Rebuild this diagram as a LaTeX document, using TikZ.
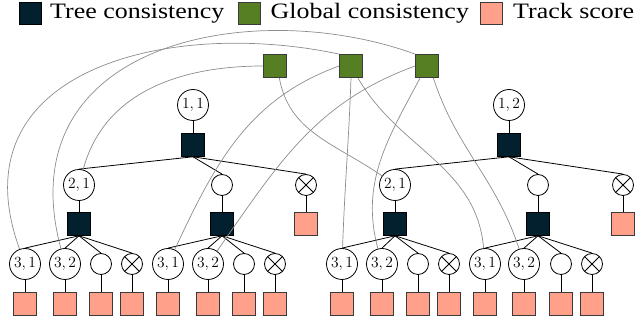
\RequirePackage{fix-cm}
\documentclass[tikz,border=0pt]{standalone}
\usepackage{fontspec}
\newfontfamily\legfont{Liberation Serif}
\definecolor{navy}{HTML}{03202F}
\definecolor{grn}{HTML}{557F22}
\definecolor{salmon}{HTML}{FFA08A}
\definecolor{bord}{HTML}{3A3A3A}
\definecolor{curvegray}{HTML}{8C8C8C}
\newcommand\mkleaf[5]{%
  \node[#3] (#1) at (#2,59) {#4};
  \node[ts] (#1p) at (#2,19) {};
  \draw[tedge] (#5.south) -- (#1.north);
  \draw[tedge] (#1) -- (#1p);}
\newcommand\legstr[1]{\scalebox{1.18}[1]{#1}}
\begin{document}
\begin{tikzpicture}[x=1pt,y=1pt,
  lab/.style={circle,draw,fill=white,line width=0.8pt,minimum size=31pt,inner sep=0pt,font=\fontsize{15.5}{15.5}\selectfont},
  emp/.style={circle,draw,fill=white,line width=0.8pt,minimum size=21pt,inner sep=0pt},
  xc/.style={emp,path picture={\draw[line width=0.8pt]
      (path picture bounding box.north west) -- (path picture bounding box.south east)
      (path picture bounding box.north east) -- (path picture bounding box.south west);}},
  tf/.style={rectangle,draw=black,fill=navy,minimum size=23pt,inner sep=0pt,line width=0.6pt},
  gf/.style={rectangle,draw=bord,fill=grn,minimum size=23pt,inner sep=0pt,line width=0.8pt},
  ts/.style={rectangle,draw=bord,fill=salmon,minimum size=23pt,inner sep=0pt,line width=0.8pt},
  tedge/.style={line width=0.8pt},
  gl/.style={draw=curvegray,line width=0.7pt},
  legtext/.style={anchor=base west,inner sep=0pt,font=\legfont\fontsize{22}{22}\selectfont}]
\useasboundingbox (0,0) rectangle (637,323);
% legend
\node[tf,minimum size=22pt] (k1) at (30,310) {};
\node[legtext] (k1t) at (50,304.5) {\legstr{Tree consistency}};
\node[gf,minimum size=22pt] (k2) at (249,310) {};
\node[legtext] (k2t) at (270.5,304.5) {\legstr{Global consistency}};
\node[ts,minimum size=22pt] (k3) at (491.5,310) {};
\node[legtext] (k3t) at (513,304.5) {\legstr{Track score}};
% global factors
\node[gf] (g1) at (275,257) {};
\node[gf] (g2) at (351,257) {};
\node[gf] (g3) at (427,257) {};
% left tree
\node[lab] (r1) at (193,218) {$1,1$};
\node[tf] (f1) at (193,178) {};
\draw[tedge] (r1) -- (f1);
\node[lab] (a) at (79,138) {$2,1$};
\node[emp] (b) at (222,138) {};
\node[xc] (c) at (306,138) {};
\foreach \n in {a,b,c} {\draw[tedge] (f1.south) -- (\n.north);}
\node[tf] (fa) at (79,99) {};
\node[tf] (fb) at (222,99) {};
\node[ts] (sc) at (306,99) {};
\draw[tedge] (a) -- (fa);
\draw[tedge] (b) -- (fb);
\draw[tedge] (c) -- (sc);
\mkleaf{a1}{25}{lab}{$3,1$}{fa}
\mkleaf{a2}{65}{lab}{$3,2$}{fa}
\mkleaf{a3}{101}{emp}{}{fa}
\mkleaf{a4}{132}{xc}{}{fa}
\mkleaf{b1}{168}{lab}{$3,1$}{fb}
\mkleaf{b2}{208}{lab}{$3,2$}{fb}
\mkleaf{b3}{244}{emp}{}{fb}
\mkleaf{b4}{275}{xc}{}{fb}
% right tree
\node[lab] (r2) at (509,218) {$1,2$};
\node[tf] (f2) at (509,178) {};
\draw[tedge] (r2) -- (f2);
\node[lab] (d) at (395,138) {$2,1$};
\node[emp] (e) at (538,138) {};
\node[xc] (h) at (623,138) {};
\foreach \n in {d,e,h} {\draw[tedge] (f2.south) -- (\n.north);}
\node[tf] (fd) at (395,99) {};
\node[tf] (fe) at (538,99) {};
\node[ts] (sh) at (623,99) {};
\draw[tedge] (d) -- (fd);
\draw[tedge] (e) -- (fe);
\draw[tedge] (h) -- (sh);
\mkleaf{d1}{342}{lab}{$3,1$}{fd}
\mkleaf{d2}{382}{lab}{$3,2$}{fd}
\mkleaf{d3}{418}{emp}{}{fd}
\mkleaf{d4}{449}{xc}{}{fd}
\mkleaf{e1}{485}{lab}{$3,1$}{fe}
\mkleaf{e2}{524}{lab}{$3,2$}{fe}
\mkleaf{e3}{561}{emp}{}{fe}
\mkleaf{e4}{592}{xc}{}{fe}
% global consistency connectors
\draw[gl] (a1) to[out=110,in=168,out looseness=1.3,in looseness=1.2] (g2.north west);
\draw[gl] (a2) to[out=105,in=160,out looseness=1.35,in looseness=1.1] (g3.north west);
\draw[gl] (a) to[out=75,in=180] (g1.west);
\draw[gl] (g1.-70) to[out=-80,in=145] (d);
\draw[gl] (g2.west) to[out=200,in=65] (b1);
\draw[gl] (g3.west) to[out=200,in=55] (b2);
\draw[gl] (g2.south) to[out=-92,in=88] (d1);
\draw[gl] (g2.-60) to[out=-60,in=95] (e1);
\draw[gl] (g3.-120) to[out=-118,in=105] (d2);
\draw[gl] (g3.-62) to[out=-72,in=108] (e2);
\end{tikzpicture}
\end{document}
